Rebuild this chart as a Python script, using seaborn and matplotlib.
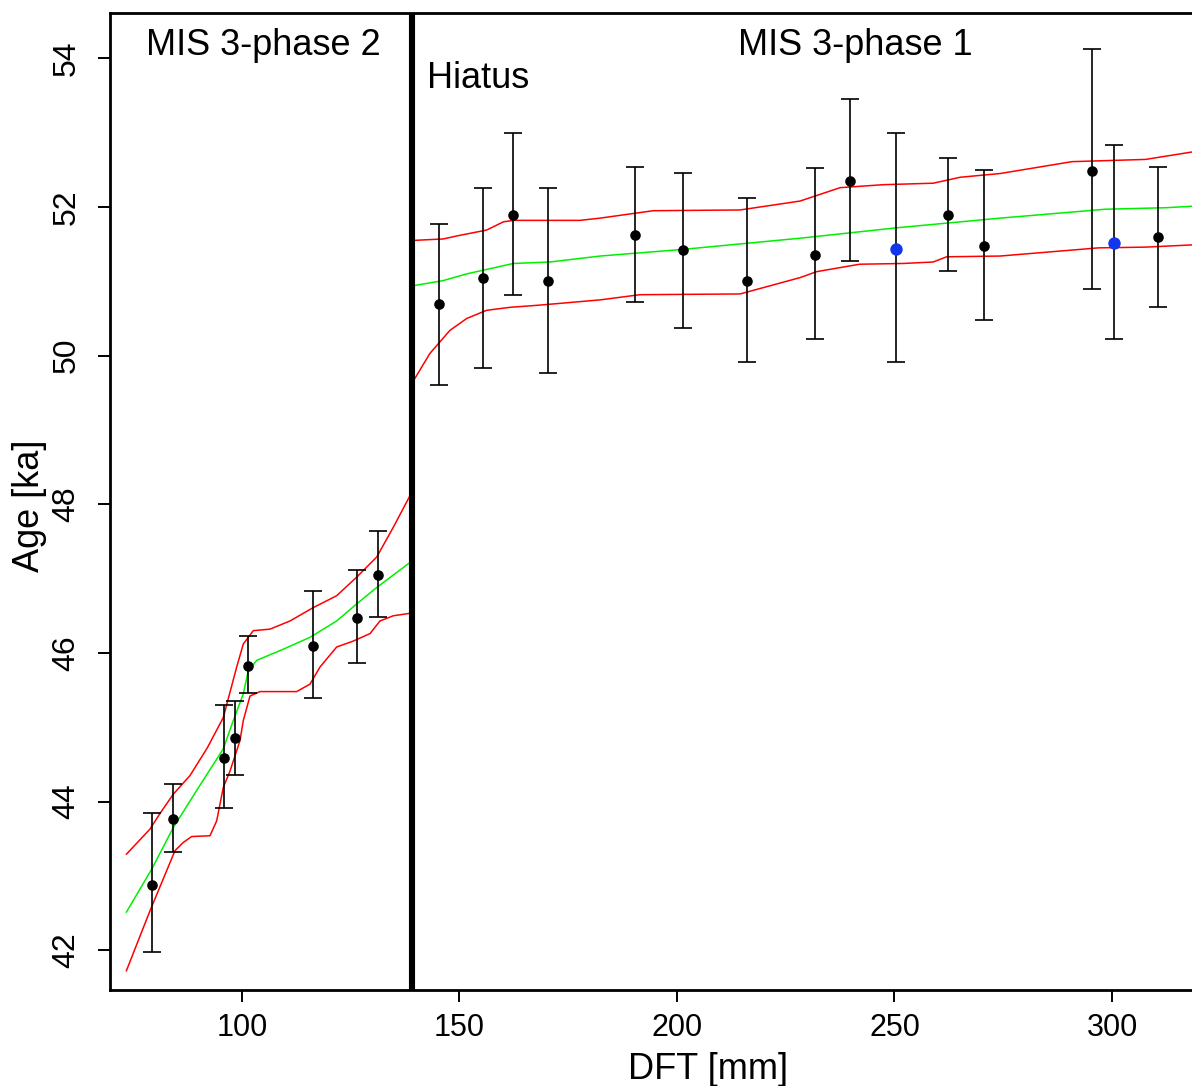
import matplotlib
matplotlib.use("Agg")
import matplotlib.pyplot as plt
import seaborn as sns
import numpy as np

# ---------------- data ----------------
# samples (DFT in mm, age in ka, 2-sigma limits)
sample_dft = [79.4, 84.2, 95.9, 98.4, 101.45, 116.39, 126.37, 131.33,
              145.3, 155.3, 162.4, 170.3, 190.4, 201.3, 216.2, 231.8,
              239.8, 250.3, 262.4, 270.6, 295.5, 300.5, 310.5]
sample_age = [42.88, 43.76, 44.59, 44.85, 45.83, 46.10, 46.47, 47.05,
              50.69, 51.05, 51.89, 51.01, 51.62, 51.42, 51.01, 51.35,
              52.35, 51.44, 51.89, 51.47, 52.49, 51.52, 51.60]
sample_lo = [41.97, 43.32, 43.92, 44.36, 45.46, 45.39, 45.87, 46.48,
             49.61, 49.84, 50.81, 49.77, 50.72, 50.37, 49.91, 50.22,
             51.27, 49.91, 51.14, 50.48, 50.90, 50.22, 50.66]
sample_hi = [43.84, 44.23, 45.30, 45.36, 46.23, 46.83, 47.11, 47.64,
             51.77, 52.25, 53.00, 52.25, 52.54, 52.46, 52.12, 52.52,
             53.45, 53.00, 52.66, 52.50, 54.13, 52.84, 52.54]
sample_kind = ["black"] * 17 + ["blue"] + ["black"] * 3 + ["blue"] + ["black"]

# age model, phase 2 (left of hiatus)
p2_mid_x = [73.4, 79.24, 84.21, 89.59, 95.70, 98.0, 100.30, 101.45, 103.38,
            109.49, 115.63, 121.77, 126.37, 130.97, 138.23, 139.2]
p2_mid_y = [42.51, 43.09, 43.65, 44.15, 44.71, 45.09, 45.45, 45.76, 45.90,
            46.05, 46.21, 46.43, 46.66, 46.88, 47.20, 47.24]
p2_hi_x = [73.40, 78.85, 81.15, 84.21, 88.05, 92.0, 95.70, 98.78, 100.30,
           102.60, 106.44, 111.03, 116.39, 121.77, 126.37, 130.97, 134.78, 138.39, 139.2]
p2_hi_y = [43.29, 43.63, 43.84, 44.10, 44.35, 44.72, 45.13, 45.81, 46.12,
           46.30, 46.32, 46.43, 46.61, 46.77, 47.02, 47.29, 47.69, 48.09, 48.18]
p2_lo_x = [73.40, 78.85, 84.60, 86.5, 88.44, 92.64, 94.18, 95.70, 97.24, 99.54,
           100.30, 101.84, 104.14, 112.57, 115.63, 117.93, 121.77, 125.59,
           129.43, 131.72, 134.78, 138.23, 139.2]
p2_lo_y = [41.72, 42.53, 43.34, 43.45, 43.53, 43.54, 43.74, 44.19, 44.41, 44.82,
           45.09, 45.42, 45.48, 45.48, 45.58, 45.81, 46.08, 46.16,
           46.26, 46.43, 46.50, 46.53, 46.54]

# age model, phase 1 (right of hiatus)
p1_mid_x = [139.3, 146.28, 151.66, 162.37, 170.8, 182.3, 201.45, 228.3,
            250.5, 274.25, 298.5, 312.3, 318.4]
p1_mid_y = [50.94, 51.01, 51.10, 51.24, 51.26, 51.34, 51.43, 51.58,
            51.72, 51.85, 51.97, 51.99, 52.01]
p1_hi_x = [139.3, 146.28, 149.36, 156.25, 160.08, 162.37, 177.7, 182.3, 194.55,
           214.5, 228.3, 237.5, 247.4, 258.9, 265.1, 274.25, 290.8, 307.7, 318.4]
p1_hi_y = [51.55, 51.57, 51.61, 51.69, 51.80, 51.82, 51.82, 51.85, 51.95,
           51.96, 52.08, 52.26, 52.30, 52.32, 52.40, 52.45, 52.61, 52.64, 52.74]
p1_lo_x = [139.3, 143.2, 147.8, 151.66, 156.25, 161.6, 168.5, 182.3, 191.5,
           214.5, 228.3, 232.1, 242.0, 252.0, 258.9, 261.99, 274.25, 296.9, 307.7, 318.4]
p1_lo_y = [49.65, 50.03, 50.34, 50.50, 50.61, 50.65, 50.68, 50.75, 50.82,
           50.83, 51.05, 51.13, 51.23, 51.24, 51.26, 51.33, 51.34, 51.45, 51.46, 51.49]

hiatus_dft = 139.15
x_ticks = [100, 150, 200, 250, 300]
y_ticks = [42, 44, 46, 48, 50, 52, 54]

# ---------------- plot ----------------
sns.set_style("ticks")
plt.rcParams["font.family"] = ["Liberation Sans", "DejaVu Sans"]
plt.rcParams["text.color"] = "black"
plt.rcParams["axes.labelcolor"] = "black"

W, H = 1192, 1086
fig = plt.figure(figsize=(W / 100, H / 100), dpi=100)
ax_l, ax_r, ax_t, ax_b = 110, 1192, 13.3, 990
ax = fig.add_axes([ax_l / W, 1 - ax_b / H, (ax_r - ax_l) / W, (ax_b - ax_t) / H])

line_kw = dict(ax=ax, estimator=None, sort=False, linewidth=1.1, legend=False)
for xs, ys, col in [(p2_lo_x, p2_lo_y, "#ff0000"), (p2_hi_x, p2_hi_y, "#ff0000"),
                    (p2_mid_x, p2_mid_y, "#00f000"),
                    (p1_lo_x, p1_lo_y, "#ff0000"), (p1_hi_x, p1_hi_y, "#ff0000"),
                    (p1_mid_x, p1_mid_y, "#00f000")]:
    sns.lineplot(x=xs, y=ys, color=col, **line_kw)

age = np.array(sample_age)
ax.errorbar(sample_dft, sample_age,
            yerr=[age - np.array(sample_lo), np.array(sample_hi) - age],
            fmt="none", ecolor="black", elinewidth=1.2, capsize=6.2,
            capthick=1.2, zorder=3)

bx = [x for x, k in zip(sample_dft, sample_kind) if k == "black"]
by = [y for y, k in zip(sample_age, sample_kind) if k == "black"]
ux = [x for x, k in zip(sample_dft, sample_kind) if k == "blue"]
uy = [y for y, k in zip(sample_age, sample_kind) if k == "blue"]
sns.scatterplot(x=bx, y=by, color="black", s=58, linewidth=0, ax=ax, zorder=4, legend=False)
sns.scatterplot(x=ux, y=uy, color="#1236ee", s=80, linewidth=0, ax=ax, zorder=4, legend=False)

ax.axvline(hiatus_dft, color="black", linewidth=4.4, zorder=5)

ax.set_xlim(69.66, 318.39)
ax.set_ylim(41.465, 54.606)
ax.set_xticks(x_ticks)
ax.set_yticks(y_ticks)
ax.tick_params(axis="both", length=8.6, width=1.4, color="black",
               labelcolor="black")
ax.tick_params(axis="x", pad=8.0, labelsize=22)
ax.tick_params(axis="y", pad=12.0, labelsize=23)
for lab in ax.get_yticklabels():
    lab.set_rotation(90)
    lab.set_va("center")

for s in ["left", "bottom", "top"]:
    ax.spines[s].set_linewidth(2.0)
    ax.spines[s].set_color("black")
ax.spines["right"].set_visible(False)

ax.set_xlabel("DFT [mm]", fontsize=26, color="black")
ax.xaxis.set_label_coords((708 - ax_l) / (ax_r - ax_l), -(1052 - ax_b) / (ax_b - ax_t))
ax.set_ylabel("Age [ka]", fontsize=26, color="black")
ax.yaxis.set_label_coords((47 - ax_l) / (ax_r - ax_l), (ax_b - 506) / (ax_b - ax_t))

def fx(px):
    return (px - ax_l) / (ax_r - ax_l)

def fy(py):
    return (ax_b - py) / (ax_b - ax_t)

ax.text(fx(263.3), fy(55), "MIS 3-phase 2", transform=ax.transAxes,
        ha="center", va="baseline", fontsize=26, color="black")
ax.text(fx(855), fy(55), "MIS 3-phase 1", transform=ax.transAxes,
        ha="center", va="baseline", fontsize=26, color="black")
ax.text(fx(427), fy(88), "Hiatus", transform=ax.transAxes,
        ha="left", va="baseline", fontsize=26, color="black")

fig.savefig("out.png", dpi=100)
